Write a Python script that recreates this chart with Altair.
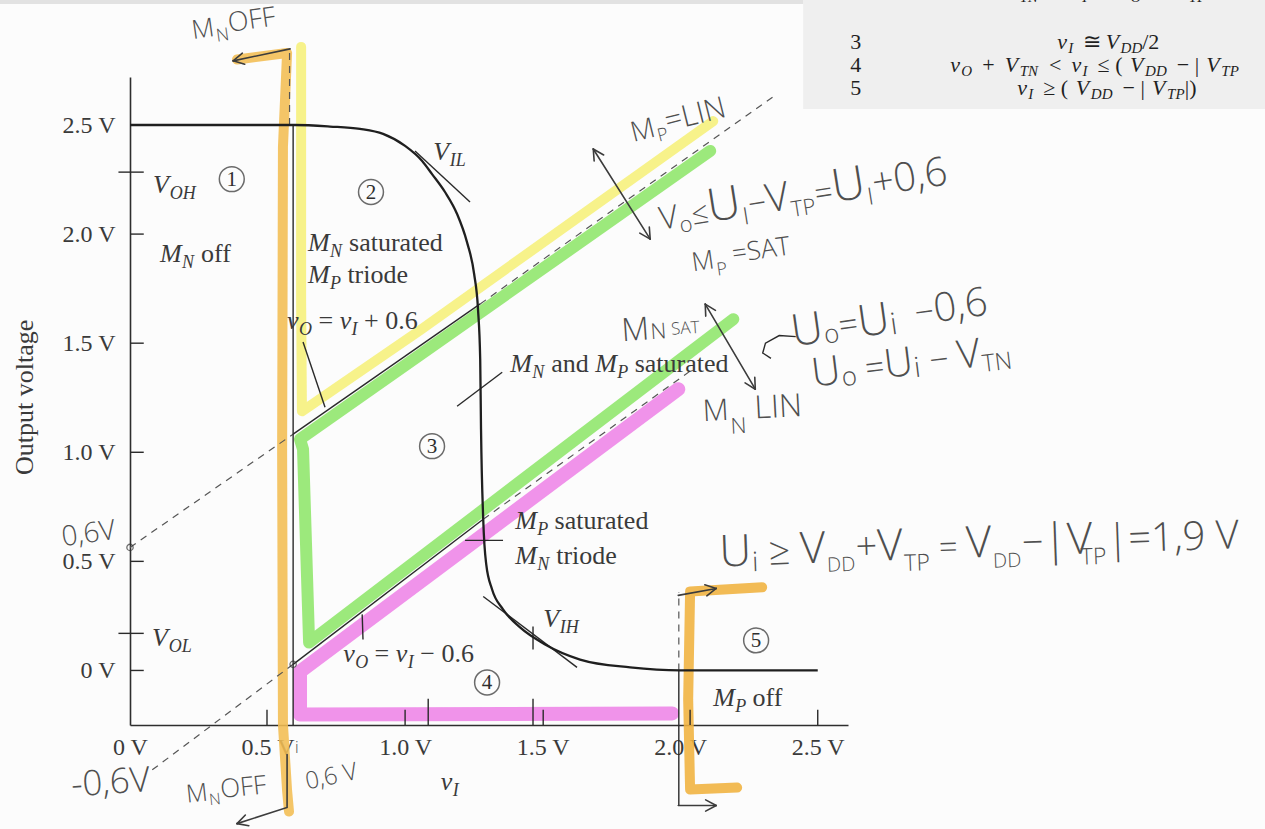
import math
import altair as alt
import pandas as pd

# ---------------------------------------------------------------- scales
X_DOMAIN = [0.0, 2.61]
Y_DOMAIN = [-0.25, 2.72]
W, H = 718, 648
PXX = W / (X_DOMAIN[1] - X_DOMAIN[0])   # px per volt, input axis
PXY = H / (Y_DOMAIN[1] - Y_DOMAIN[0])   # px per volt, output axis

X_TICKS = [0.0, 0.5, 1.0, 1.5, 2.0, 2.5]
X_TICK_LABELS = ["0 V", "0.5 V", "1.0 V", "1.5 V", "2.0 V", "2.5 V"]
Y_TICKS = [0.0, 0.5, 1.0, 1.5, 2.0, 2.5]
Y_TICK_LABELS = ["0 V", "0.5 V", "1.0 V", "1.5 V", "2.0 V", "2.5 V"]

# ---------------------------------------------------------------- data
# CMOS inverter voltage transfer characteristic (vI, vO)
VTC_VI = [0.0, 0.60, 0.727, 0.836, 0.92, 1.0, 1.062, 1.098, 1.145, 1.189, 1.225,
          1.251, 1.265, 1.273, 1.276, 1.284, 1.295, 1.316, 1.356, 1.418, 1.509,
          1.636, 1.818, 2.0, 2.5]
VTC_VO = [2.5, 2.5, 2.493, 2.482, 2.459, 2.404, 2.335, 2.275, 2.193, 2.092, 1.963,
          1.817, 1.656, 1.427, 1.106, 0.693, 0.486, 0.372, 0.28, 0.197, 0.119,
          0.05, 0.014, 0.0, 0.0]

# region boundaries
BOUND_UP_VI, BOUND_UP_VO = [0.593, 1.273], [1.083, 1.68]      # vO = vI + 0.6
BOUND_LO_VI, BOUND_LO_VO = [0.593, 1.284], [0.028, 0.693]     # vO = vI - 0.6
VERT_06_VI, VERT_06_VO = [0.593, 0.593], [2.5, -0.25]
VERT_20_VI, VERT_20_VO = [1.995, 1.995], [0.0, -0.62]

# dashed continuations
DASH_LINES = {
    "d_top": ([0.58, 0.58], [2.5, 2.85]),
    "d_r": ([1.995, 1.995], [0.0, 0.36]),
    "d_up_l": ([0.0, 0.593], [0.564, 1.083]),
    "d_up_r": ([1.273, 2.35], [1.68, 2.64]),
    "d_lo_l": ([0.593, 0.073], [0.028, -0.463]),
    "d_lo_r": ([1.284, 2.036], [0.693, 1.372]),
}

# leader lines, tangents and marks
THIN_LINES = {
    "lead_plus": ([0.629, 0.709], [1.505, 1.206]),
    "lead_minus": ([0.844, 0.847], [0.257, 0.142]),
    "lead_sat": ([1.189, 1.353], [1.211, 1.367]),
    "cross_mp": ([1.218, 1.356], [0.596, 0.596]),
    "tan_vil": ([1.036, 1.236], [2.381, 2.147]),
    "tan_vih": ([1.284, 1.625], [0.339, 0.014]),
    "tick_vih": ([1.465, 1.465], [0.202, 0.096]),
    "curl": ([2.42, 2.36, 2.31, 2.30, 2.33], [1.53, 1.535, 1.50, 1.455, 1.43]),
}

# pen arrows: (vI list, vO list, head at start?, head at end?)
PEN_ARROWS = {
    "pen_top": ([0.582, 0.375], [2.849, 2.794], False, True),
    "pen_bot": ([0.571, 0.571, 0.389], [-0.385, -0.628, -0.702], False, True),
    "pen_rtop": ([1.993, 2.131], [0.344, 0.376], False, True),
    "pen_rbot": ([1.993, 2.131], [-0.619, -0.619], False, True),
    "arrow_p": ([1.684, 1.891], [2.39, 1.977], True, True),
    "arrow_n": ([2.091, 2.273], [1.679, 1.289], True, True),
}

# highlighter strokes: (vI list, vO list, colour, width)
HIGHLIGHTS = {
    "orange_l": ([0.389, 0.571, 0.556, 0.553, 0.556, 0.571, 0.578],
                 [2.80, 2.83, 2.40, 1.0, -0.25, -0.55, -0.647], "#f2bd52", 10),
    "yellow": ([0.622, 0.622, 0.625, 1.055, 2.12],
               [2.858, 1.702, 1.188, 1.56, 2.518], "#f6f07a", 10),
    "green": ([2.109, 0.618, 0.629, 0.651, 2.193],
              [2.381, 1.06, 1.014, 0.128, 1.61], "#8ee66a", 12),
    "pink": ([1.993, 0.618, 0.618, 1.971],
             [1.289, -0.005, -0.202, -0.197], "#ee84e7", 14),
    "orange_r": ([2.298, 2.036, 2.029, 2.036, 2.207],
                 [0.381, 0.362, -0.133, -0.546, -0.537], "#f0b23e", 10),
}

# inner tick marks
Y_MARKS = [0.0, 0.5, 1.0, 1.5, 2.0]
Y_LEVEL_MARKS = [2.284, 0.17]          # V_OH, V_OL
X_MARKS = [0.498, 1.0, 1.084, 1.465, 1.502, 2.036, 2.5]
X_MARK_TOPS = [-0.18, -0.18, -0.13, -0.13, -0.18, -0.18, -0.18]

# small open points
DOT_VI, DOT_VO = [0.0, 0.593], [0.564, 0.028]

# circled region numbers
REGION_NUM = ["1", "2", "3", "4", "5"]
REGION_VI = [0.37, 0.876, 1.098, 1.298, 2.276]
REGION_VO = [2.252, 2.193, 1.028, -0.055, 0.138]

# table panel
TABLE_VI, TABLE_VO = [2.447, 4.3], [2.573, 3.2]
TOPLINE_VI, TOPLINE_VO = [-0.5, 2.447], [3.055, 3.2]

# ---------------------------------------------------------------- text layout
SERIF_W = {' ': .25, '.': .25, ',': .25, '=': .564, '+': .564, '−': .564, '<': .564,
           '≤': .549, '≥': .549, '≅': .549, '(': .333, ')': .333, '|': .2, '/': .278,
           'V': .64, 'M': .85, 'N': .69, 'O': .72, 'H': .72, 'I': .333, 'L': .58,
           'P': .6, 'T': .58, 'D': .72, 'a': .444, 'd': .5, 'e': .444, 'f': .333,
           'i': .278, 'n': .5, 'o': .5, 'r': .333, 's': .389, 't': .278, 'u': .5,
           'v': .46, 'g': .5, 'l': .278}
MATH_W = dict(SERIF_W, **{' ': .46, '(': .47, '|': .32, 'V': .68, 'v': .5})
HAND_W = {'M': .9, 'N': .75, 'O': .78, 'F': .5, 'U': .73, 'V': .6, 'T': .55, 'P': .6,
          'S': .55, 'A': .63, 'L': .52, 'I': .28, 'D': .73, 'o': .6, 'i': .26, ' ': .26,
          ',': .25, '|': .24, '=': .57, '≤': .57, '≥': .57, '−': .57, '+': .57, '-': .32}
WIDTHS = {"serif": (SERIF_W, 0.5), "math": (MATH_W, 0.5), "hand": (HAND_W, 0.57)}


def text_w(s, size, fam):
    table, dflt = WIDTHS[fam]
    return sum(table.get(c, dflt) for c in s) * size


def set_text(rows, start, pieces, fam, color, angle=0.0):
    a = math.radians(angle)
    pen = 0.0
    for txt, size, drop, ital in pieces:
        lead = text_w(txt[: len(txt) - len(txt.lstrip())], size, fam)
        p = pen + lead
        sx = p * math.cos(a) - drop * math.sin(a)
        sy = p * math.sin(a) + drop * math.cos(a)
        rows.append(dict(vi=start[0] + sx / PXX, vo=start[1] - sy / PXY,
                         text=txt.strip(), size=size, angle=angle % 360,
                         hand=(fam == "hand"), ital=ital, col=color))
        pen += text_w(txt, size, fam)


BOOK = "#3a3a3a"
TAB = "#1f1f1f"
PEN = "#4f4f4f"
S, SS, D = 26, 18, 6      # textbook size, subscript size, subscript drop

BOOK_LABELS = [
    ((0.084, 2.188), [("V", S, 0, True), ("OH", SS, D, True)]),
    ((0.109, 1.872), [("M", S, 0, True), ("N", SS, D, True), (" off", S, 0, False)]),
    ((0.647, 1.922), [("M", S, 0, True), ("N", SS, D, True), (" saturated", S, 0, False)]),
    ((0.647, 1.775), [("M", S, 0, True), ("P", SS, D, True), (" triode", S, 0, False)]),
    ((0.571, 1.564), [("v", S, 0, True), ("O", SS, D, True), (" = ", S, 0, False),
                      ("v", S, 0, True), ("I", SS, D, True), (" + 0.6", S, 0, False)]),
    ((1.102, 2.339), [("V", S, 0, True), ("IL", SS, D, True)]),
    ((1.382, 1.367), [("M", S, 0, True), ("N", SS, D, True), (" and ", S, 0, False),
                      ("M", S, 0, True), ("P", SS, D, True), (" saturated", S, 0, False)]),
    ((1.40, 0.647), [("M", S, 0, True), ("P", SS, D, True), (" saturated", S, 0, False)]),
    ((1.40, 0.486), [("M", S, 0, True), ("N", SS, D, True), (" triode", S, 0, False)]),
    ((1.502, 0.197), [("V", S, 0, True), ("IH", SS, D, True)]),
    ((0.775, 0.041), [("v", S, 0, True), ("O", SS, D, True), (" = ", S, 0, False),
                      ("v", S, 0, True), ("I", SS, D, True), (" − 0.6", S, 0, False)]),
    ((2.12, -0.165), [("M", S, 0, True), ("P", SS, D, True), (" off", S, 0, False)]),
    ((0.08, 0.11), [("V", S, 0, True), ("OL", SS, D, True)]),
    ((1.13, -0.546), [("v", S, 0, True), ("I", SS, D, True)]),
]

TS, TSS, TD = 22, 15, 4
TABLE_LABELS = [
    ((3.18, 3.083), [("V", TS, 0, True), ("TN", TSS, TD, True), (" ≤ ", TS, 0, False),
                     ("v", TS, 0, True), ("I", TSS, TD, True), (" ≤ ", TS, 0, False),
                     ("v", TS, 0, True), ("O", TSS, TD, True), (" + ", TS, 0, False),
                     ("V", TS, 0, True), ("TP", TSS, TD, True)]),
    ((2.618, 2.849), [("3", TS, 0, False)]),
    ((2.618, 2.743), [("4", TS, 0, False)]),
    ((2.618, 2.638), [("5", TS, 0, False)]),
    ((3.371, 2.849), [("v", TS, 0, True), ("I", TSS, TD, True), (" ≅ ", TS, 0, False),
                      ("V", TS, 0, True), ("DD", TSS, TD, True), ("/2", TS, 0, False)]),
    ((2.982, 2.743), [("v", TS, 0, True), ("O", TSS, TD, True), (" + ", TS, 0, False),
                      ("V", TS, 0, True), ("TN", TSS, TD, True), (" < ", TS, 0, False),
                      ("v", TS, 0, True), ("I", TSS, TD, True), (" ≤ (", TS, 0, False),
                      ("V", TS, 0, True), ("DD", TSS, TD, True), (" − |", TS, 0, False),
                      ("V", TS, 0, True), ("TP", TSS, TD, True)]),
    ((3.225, 2.638), [("v", TS, 0, True), ("I", TSS, TD, True), (" ≥ (", TS, 0, False),
                      ("V", TS, 0, True), ("DD", TSS, TD, True), (" − |", TS, 0, False),
                      ("V", TS, 0, True), ("TP", TSS, TD, True), ("|)", TS, 0, False)]),
]

PEN_LABELS = [
    ((0.229, 2.894), -8, [("M", 26, 0), ("N", 18, 6), ("OFF", 27, -2)]),
    ((0.207, -0.606), -6, [("M", 25, 0), ("N", 16, 5), ("OFF", 26, -1)]),
    ((-0.244, 0.569), -8, [("0,6V", 28, 0)]),
    ((-0.211, -0.578), -4, [("-0,6V", 35, 0)]),
    ((0.644, -0.546), -12, [("0,6 V", 24, 0)]),
    ((0.60, -0.38), 0, [("i", 16, 0)]),
    ((1.829, 2.422), -14, [("M", 28, 0), ("P", 18, 6), ("=LIN", 30, -2)]),
    ((1.93, 2.02), -9, [("V", 32, 0), ("o", 22, 6), ("≤", 30, 0), ("U", 46, 0), ("I", 24, 8),
                        ("−", 32, 0), ("V", 40, 0), ("TP", 22, 8), ("=", 32, 0), ("U", 46, 0),
                        ("I", 24, 8), ("+", 38, 0), ("0,6", 40, 0)]),
    ((2.047, 1.83), -8, [("M", 26, 0), ("P", 18, 8), (" =SAT", 26, -3)]),
    ((1.789, 1.509), -4, [("M", 32, 0), ("N", 22, 0), (" SAT", 17, -3)]),
    ((2.411, 1.486), -8, [("U", 44, 0), ("o", 26, 2), ("=", 34, -2), ("U", 44, 0), ("i", 30, 2),
                          ("  −", 34, -4), ("0,6", 40, -4)]),
    ((2.484, 1.30), -7, [("U", 40, 0), ("o", 26, 3), (" =", 34, 0), ("U", 40, 0), ("i", 28, 3),
                         (" − ", 34, 0), ("V", 40, 0), ("TN", 24, 6)]),
    ((2.084, 1.142), -3, [("M", 30, 0), ("N", 22, 14), (" LIN", 32, 0)]),
    ((2.145, 0.477), -2, [("U", 44, 0), ("i", 27, 6), (" ≥ ", 38, 0), ("V", 44, 0), ("DD", 20, 9),
                          ("+", 38, -2), ("V", 44, 0), ("TP", 23, 11), (" = ", 33, 0), ("V", 44, 0),
                          ("DD", 20, 11), ("−", 38, 0), ("|V", 44, 0), ("TP", 23, 11),
                          ("|=1,9 V", 40, 0)]),
]

# ---------------------------------------------------------------- frames
def add_poly(rows, name, vis, vos, **extra):
    for k, (a, b) in enumerate(zip(vis, vos)):
        rows.append(dict(id=name, ord=k, vi=a, vo=b, **extra))


def arrowhead(tip, tail, length=12.0, spread=28.0):
    tx, ty = tip[0] * PXX, -tip[1] * PXY
    bx, by = tail[0] * PXX, -tail[1] * PXY
    dx, dy = bx - tx, by - ty
    n = math.hypot(dx, dy)
    dx, dy = dx / n, dy / n
    arms = []
    for sgn in (1, -1):
        r = math.radians(spread * sgn)
        rx = dx * math.cos(r) - dy * math.sin(r)
        ry = dx * math.sin(r) + dy * math.cos(r)
        arms.append(([tip[0], (tx + rx * length) / PXX], [tip[1], -(ty + ry * length) / PXY]))
    return arms


hl_rows = []
for name, (vis, vos, col, w) in HIGHLIGHTS.items():
    add_poly(hl_rows, name, vis, vos, col=col, w=w)
hl_df = pd.DataFrame(hl_rows)

solid_rows = []
add_poly(solid_rows, "up", BOUND_UP_VI, BOUND_UP_VO)
add_poly(solid_rows, "lo", BOUND_LO_VI, BOUND_LO_VO)
add_poly(solid_rows, "v06", VERT_06_VI, VERT_06_VO)
add_poly(solid_rows, "v20", VERT_20_VI, VERT_20_VO)
for name, (vis, vos) in THIN_LINES.items():
    add_poly(solid_rows, name, vis, vos)
for k, v in enumerate(Y_MARKS):
    add_poly(solid_rows, f"yt{k}", [0.0, 0.05], [v, v])
for k, v in enumerate(Y_LEVEL_MARKS):
    add_poly(solid_rows, f"yl{k}", [-0.042, 0.05], [v, v])
for k, (v, top) in enumerate(zip(X_MARKS, X_MARK_TOPS)):
    add_poly(solid_rows, f"xt{k}", [v, v], [Y_DOMAIN[0], top])
solid_df = pd.DataFrame(solid_rows)

pen_rows = []
for name, (vis, vos, h0, h1) in PEN_ARROWS.items():
    add_poly(pen_rows, name, vis, vos)
    heads = []
    if h1:
        heads += arrowhead((vis[-1], vos[-1]), (vis[-2], vos[-2]))
    if h0:
        heads += arrowhead((vis[0], vos[0]), (vis[1], vos[1]))
    for j, (hx, hy) in enumerate(heads):
        add_poly(pen_rows, f"{name}_h{j}", hx, hy)
pen_df = pd.DataFrame(pen_rows)

dash_rows = []
for name, (vis, vos) in DASH_LINES.items():
    add_poly(dash_rows, name, vis, vos)
dash_df = pd.DataFrame(dash_rows)

vtc_df = pd.DataFrame({"vi": VTC_VI, "vo": VTC_VO})
dot_df = pd.DataFrame({"vi": DOT_VI, "vo": DOT_VO})
region_df = pd.DataFrame({"vi": REGION_VI, "vo": REGION_VO, "text": REGION_NUM})
panel_df = pd.DataFrame([
    {"vi": TABLE_VI[0], "vi2": TABLE_VI[1], "vo": TABLE_VO[0], "vo2": TABLE_VO[1], "col": "#efefef"},
    {"vi": TOPLINE_VI[0], "vi2": TOPLINE_VI[1], "vo": TOPLINE_VO[0], "vo2": TOPLINE_VO[1], "col": "#e2e2e2"},
])

text_rows = []
for start, pieces in BOOK_LABELS:
    set_text(text_rows, start, pieces, "serif", BOOK)
for start, pieces in TABLE_LABELS:
    set_text(text_rows, start, pieces, "math", TAB)
for start, ang, pieces in PEN_LABELS:
    set_text(text_rows, start, [(t, s, d, False) for t, s, d in pieces], "hand", PEN, ang)
text_df = pd.DataFrame(text_rows)
title_df = pd.DataFrame({"vi": [-0.382], "vo": [1.252], "text": ["Output voltage"]})

# ---------------------------------------------------------------- encodings
label_lookup_x = "[" + ",".join(f"'{t}'" for t in X_TICK_LABELS) + "][round(datum.value*2)]"
label_lookup_y = "[" + ",".join(f"'{t}'" for t in Y_TICK_LABELS) + "][round(datum.value*2)]"

X = alt.X("vi:Q", scale=alt.Scale(domain=X_DOMAIN, nice=False, zero=False),
          axis=alt.Axis(values=X_TICKS, labelExpr=label_lookup_x, ticks=False, grid=False,
                        domainColor="#2e2e2e", domainWidth=1.6, labelFont="Liberation Serif",
                        labelFontSize=24, labelColor=BOOK, labelPadding=10, labelFlush=False,
                        labelOverlap=False, title=None))
Y = alt.Y("vo:Q", scale=alt.Scale(domain=Y_DOMAIN, nice=False, zero=False),
          axis=alt.Axis(values=Y_TICKS, labelExpr=label_lookup_y, ticks=False, grid=False,
                        domainColor="#2e2e2e", domainWidth=1.6, labelFont="Liberation Serif",
                        labelFontSize=24, labelColor=BOOK, labelPadding=15, labelFlush=False,
                        labelOverlap=False, title=None))

panel = alt.Chart(panel_df).mark_rect().encode(
    x=X, x2="vi2", y=Y, y2="vo2", color=alt.Color("col:N", scale=None))

highlight = alt.Chart(hl_df).mark_line(strokeCap="round", strokeJoin="round", opacity=0.88).encode(
    x=X, y=Y, detail="id:N", order="ord:Q",
    color=alt.Color("col:N", scale=None), size=alt.Size("w:Q", scale=None))

dashed = alt.Chart(dash_df).mark_line(color="#555555", strokeWidth=1.2, strokeDash=[7, 6]).encode(
    x=X, y=Y, detail="id:N", order="ord:Q")

solid = alt.Chart(solid_df).mark_line(color="#2a2a2a", strokeWidth=1.4).encode(
    x=X, y=Y, detail="id:N", order="ord:Q")

pen = alt.Chart(pen_df).mark_line(color="#3c3c3c", strokeWidth=1.6, strokeCap="round").encode(
    x=X, y=Y, detail="id:N", order="ord:Q")

vtc = alt.Chart(vtc_df).mark_line(color="#1f1f1f", strokeWidth=2.3, interpolate="monotone").encode(
    x=X, y=Y)

dots = alt.Chart(dot_df).mark_point(shape="circle", filled=False, size=40, color="#333333",
                                    strokeWidth=1.3).encode(x=X, y=Y)

rings = alt.Chart(region_df).mark_point(shape="circle", filled=False, size=620, color="#2e2e2e",
                                        strokeWidth=1.5).encode(x=X, y=Y)
ring_text = alt.Chart(region_df).mark_text(font="Liberation Serif", fontSize=21, color="#2e2e2e",
                                           align="center", baseline="middle", dy=1).encode(
    x=X, y=Y, text="text:N")


def text_layer(hand, ital, font, weight="normal"):
    df = text_df[(text_df.hand == hand) & (text_df.ital == ital)]
    return alt.Chart(df).mark_text(align="left", baseline="alphabetic", font=font,
                                   fontStyle="italic" if ital else "normal",
                                   fontWeight=weight).encode(
        x=X, y=Y, text="text:N", size=alt.Size("size:Q", scale=None),
        angle=alt.Angle("angle:Q", scale=None), color=alt.Color("col:N", scale=None))


serif_txt = text_layer(False, False, "Liberation Serif")
serif_it = text_layer(False, True, "Liberation Serif")
hand_txt = text_layer(True, False, "Open Sans", 300)

y_title = alt.Chart(title_df).mark_text(font="Liberation Serif", fontSize=26, color=BOOK,
                                        align="center", baseline="middle", angle=270).encode(
    x=X, y=Y, text="text:N")

chart = alt.layer(
    panel, highlight, dashed, solid, pen, vtc, dots, rings, ring_text,
    serif_txt, serif_it, hand_txt, y_title,
).properties(
    width=W, height=H,
    padding={"left": 130, "top": 77, "right": 417, "bottom": 104},
    autosize=alt.AutoSizeParams(type="none"),
    background="#fcfcfc",
).configure_view(stroke=None)

chart.save("out.html", embed_options={"renderer": "svg", "actions": False})
